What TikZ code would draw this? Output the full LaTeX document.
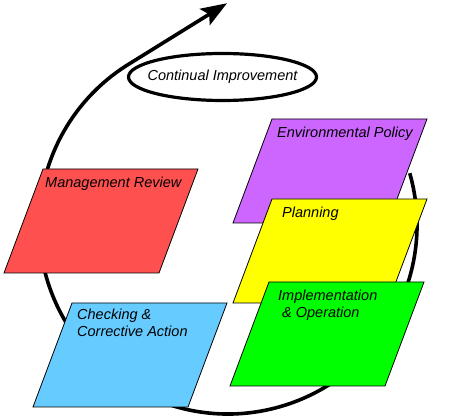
\documentclass[tikz,border=0pt]{standalone}
\usepackage{fontspec}
\setmainfont{Liberation Sans}
\usepackage{tikz}
\usetikzlibrary{arrows.meta,shapes.geometric}
\definecolor{reviewred}{HTML}{FF5050}
\definecolor{policypurple}{HTML}{CC66FF}
\definecolor{planyellow}{HTML}{FFFF00}
\definecolor{implgreen}{HTML}{00FF00}
\definecolor{checkblue}{HTML}{66CCFF}
\tikzset{
  cycleline/.style={black, line width=3.6pt, -{Stealth[length=26pt,width=19pt,inset=5pt]}},
  loopellipse/.style={ellipse, draw=black, fill=white, line width=3.2pt, minimum width=188pt, minimum height=47pt, inner xsep=-10pt, inner ysep=0pt, font=\fontsize{14.5}{17}\selectfont\itshape},
  stagebox/.style={draw=black, line width=0.8pt},
  stagetext/.style={anchor=north west, inner sep=0pt, align=left, font=\fontsize{14.5}{17}\selectfont\itshape}
}
\begin{document}
\begin{tikzpicture}[x=1pt, y=1pt]
  \useasboundingbox (0,0) rectangle (450,417);
  % the improvement loop
  \coordinate (hub) at (228,192);
  \draw[cycleline] ([shift={(15.9:189)}]hub) arc[start angle=15.9, end angle=-238.2, radius=189] -- ++(31.8:116);
  \node[loopellipse] (improve) at (222.5,340) {Continual Improvement};
  \foreach \name/\bx/\by/\col/\dx/\dy/\txt in {
      review/43/248/reviewred/2/8/{Management Review},
      check/72/114/checkblue/5/6/{Checking \&\\Corrective Action},
      policy/272/298/policypurple/5/8/{Environmental Policy},
      plan/272/218/planyellow/10/8/{Planning},
      impl/269/135/implgreen/9/8/{Implementation\\\hspace*{4pt}\& Operation}}{
    \draw[stagebox, fill=\col] (\bx,\by) -- ++(155,0) -- ++(-39,-104) -- ++(-155,0) -- cycle;
    \node[stagetext] (\name) at (\bx+\dx,\by-\dy) {\txt};
  }
\end{tikzpicture}
\end{document}
